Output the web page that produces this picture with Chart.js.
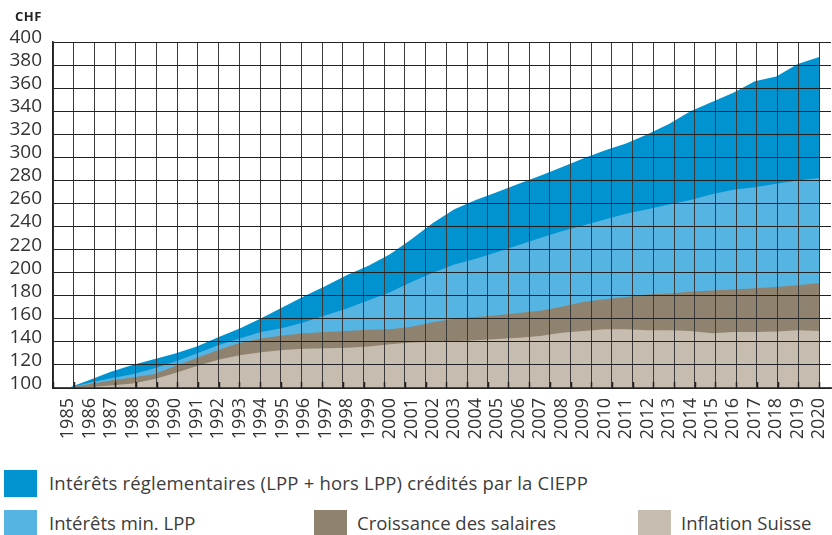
<!DOCTYPE html>
<html>
<head>
<meta charset="utf-8">
<script src="https://cdn.jsdelivr.net/npm/chart.js@4/dist/chart.umd.min.js"></script>
<style>
  html, body { margin: 0; padding: 0; background: #fff; }
  #wrap { position: relative; width: 832px; height: 535px; overflow: hidden; font-family: "Open Sans", sans-serif; }
  #c { position: absolute; left: 0; top: 0; }
  #unit { position: absolute; left: 15px; top: 7px; font-size: 13px; font-weight: bold; color: #222; letter-spacing: 0.5px; }
  .sw { position: absolute; width: 33px; height: 27px; }
  .lt { position: absolute; font-size: 18.5px; color: #3c3c3c; line-height: 27px; white-space: nowrap; }
</style>
</head>
<body>
<div id="wrap">
  <canvas id="c" width="832" height="460"></canvas>
  <div id="unit">CHF</div>
  <div class="sw" style="left:4px;top:470px;background:#0093D0"></div>
  <div class="lt" style="left:49px;top:469px;letter-spacing:0.2px">Intérêts réglementaires (LPP + hors LPP) crédités par la CIEPP</div>
  <div class="sw" style="left:4px;top:510px;background:#56B4E3"></div>
  <div class="lt" style="left:49px;top:509px">Intérêts min. LPP</div>
  <div class="sw" style="left:314px;top:510px;background:#8F836F"></div>
  <div class="lt" style="left:357px;top:509px">Croissance des salaires</div>
  <div class="sw" style="left:638px;top:510px;background:#C6BCAF"></div>
  <div class="lt" style="left:681px;top:509px">Inflation Suisse</div>
</div>
<script>
const years = [1985,1986,1987,1988,1989,1990,1991,1992,1993,1994,1995,1996,1997,1998,1999,2000,2001,2002,2003,2004,2005,2006,2007,2008,2009,2010,2011,2012,2013,2014,2015,2016,2017,2018,2019,2020];
const interetsReglementaires = [100,107,114,120,125,130,136,144,151.5,160.5,170,179.5,188.5,198,206,216,229,243,255,263,270,277,284,291.5,299,306,312,320,329,340,348,356,366,370,381,387];
const interetsMinLPP = [100,104.5,108.5,112,117,123,130,137,143,148.5,152,157,163,169,176,183,192,200,207,212,218,224,230,236,241,246,251,255,259,263,268,272,274,277,280,282];
const croissanceSalaires = [100,103.5,106.5,109,112,119,126,133,139,143,145.5,147.5,148.5,149.5,150.5,151,153,157,160,161.5,163,165,167,170.5,174.5,177,179,181,182,183.5,184.5,185.5,186.5,187.5,189,191];
const inflationSuisse = [100,100.8,102.2,104,107.5,113,119,124.5,128.5,131,133,134,134.5,135,136,138,139.5,140,140.5,141.5,142.5,143.5,145,148,149.5,151,151,150,150,149.5,147.5,148.5,148.5,149,150,149.5];
const yTicks = [100,120,140,160,180,200,220,240,260,280,300,320,340,360,380,400];

const pts = arr => arr.map((v, i) => ({x: years[i], y: v}));
const ds = (label, arr, color) => ({
  label, data: pts(arr), backgroundColor: color, borderColor: color,
  borderWidth: 0, pointRadius: 0, fill: 'origin', tension: 0
});

const LEFT = 53, RIGHT = 831;
const pxPerYear = (819.2 - 68) / 35;
const xMin = 1985 - (68 - LEFT) / pxPerYear;
const xMax = xMin + (RIGHT - LEFT) / pxPerYear;
const gridStep = (819.3 - 53.3) / 37;
const noPad = s => { s.paddingLeft = 0; s.paddingRight = 0; s.paddingTop = 0; s.paddingBottom = 0; };

const innerTicks = {
  id: 'innerTicks',
  afterDraw(chart) {
    const s = chart.scales.x2, ctx = chart.ctx, b = chart.chartArea.bottom;
    ctx.save();
    ctx.strokeStyle = '#222';
    ctx.lineWidth = 1.5;
    s.ticks.forEach(t => {
      const x = Math.round(s.getPixelForValue(t.value)) + 0.5;
      ctx.beginPath(); ctx.moveTo(x, b - 6); ctx.lineTo(x, b); ctx.stroke();
    });
    ctx.restore();
  }
};

new Chart(document.getElementById('c'), {
  type: 'line',
  data: {
    datasets: [
      ds('Inflation Suisse', inflationSuisse, '#C6BCAF'),
      ds('Croissance des salaires', croissanceSalaires, '#8F836F'),
      ds('Intérêts min. LPP', interetsMinLPP, '#56B4E3'),
      ds('Intérêts réglementaires (LPP + hors LPP) crédités par la CIEPP', interetsReglementaires, '#0093D0')
    ]
  },
  plugins: [innerTicks],
  options: {
    responsive: false,
    animation: false,
    layout: { padding: { top: 42, right: 832 - RIGHT, left: 0, bottom: 0 } },
    plugins: { legend: { display: false }, tooltip: { enabled: false } },
    scales: {
      x: {
        type: 'linear', min: xMin, max: xMax,
        afterBuildTicks: s => { s.ticks = years.map(v => ({value: v})); },
        afterFit: s => { s.height = 72; noPad(s); },
        grid: { display: false, drawTicks: false },
        border: { display: true, color: '#4a4a4a', width: 2, z: 1 },
        ticks: {
          autoSkip: false, minRotation: 90, maxRotation: 90, padding: 10,
          color: '#333', font: { family: 'Open Sans', size: 18 },
          callback: v => String(v)
        }
      },
      x2: {
        type: 'linear', position: 'bottom', min: 0, max: (RIGHT - LEFT) / gridStep,
        afterBuildTicks: s => { const t = []; for (let i = 0; i <= 37; i++) t.push({value: i}); s.ticks = t; },
        afterFit: s => { s.height = 0; noPad(s); },
        grid: { display: true, color: '#3a3a3a', lineWidth: 1, drawTicks: false, z: 1 },
        border: { display: false },
        ticks: { display: false }
      },
      y: {
        min: 100, max: 400,
        afterBuildTicks: s => { s.ticks = yTicks.map(v => ({value: v})); },
        afterFit: s => { s.width = LEFT; noPad(s); },
        grid: { color: '#222', lineWidth: 1, drawTicks: false, z: 1 },
        border: { display: true, color: '#222', width: 1.5, z: 1 },
        ticks: {
          padding: 11, color: '#333',
          font: { family: 'Open Sans', size: 19, lineHeight: 0.47 },
          callback: v => [String(v), '']
        }
      }
    }
  }
});
</script>
</body>
</html>
